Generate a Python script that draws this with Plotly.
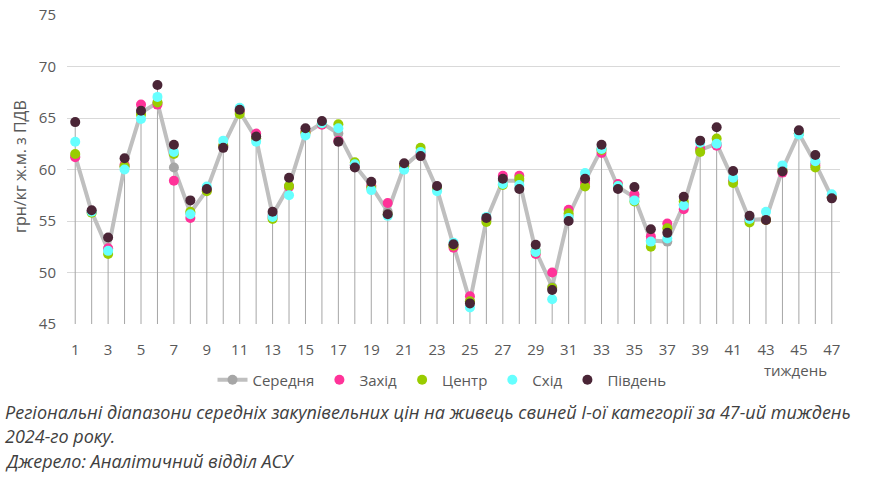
import plotly.graph_objects as go

weeks = list(range(1, 48))

serednia = [61.3, 55.9, 52.2, 60.3, 65.5, 66.5, 60.2, 55.8, 58.0, 62.3,
            65.6, 63.0, 55.6, 58.4, 63.5, 64.5, 63.5, 60.4, 58.4, 55.9,
            60.3, 61.7, 58.1, 52.6, 47.2, 55.1, 58.9, 58.9, 52.1, 48.6,
            55.5, 58.9, 62.0, 58.3, 57.3, 53.1, 53.0, 56.6, 61.9, 62.5,
            59.0, 55.1, 55.2, 60.0, 63.5, 60.6, 57.3]

zakhid = [61.2, 55.9, 52.35, 60.45, 66.3, 66.3, 58.9, 55.3, 58.0, 62.2,
          65.7, 63.5, 55.4, 58.3, 63.7, 64.35, 62.8, 60.4, 58.4, 56.75,
          60.4, 61.5, 58.1, 52.4, 47.7, 55.2, 59.4, 59.4, 51.8, 50.0,
          56.1, 58.7, 61.6, 58.6, 57.6, 53.5, 54.75, 56.15, 62.0, 62.3,
          59.0, 55.1, 55.1, 59.7, 63.5, 60.4, 57.3]

tsentr = [61.5, 55.8, 51.8, 60.3, 65.35, 66.5, 61.5, 55.9, 57.9, 62.3,
          65.4, 63.0, 55.2, 58.4, 63.6, 64.5, 64.4, 60.7, 58.2, 55.6,
          60.3, 62.1, 58.1, 52.6, 47.2, 54.9, 58.5, 59.1, 52.0, 48.5,
          55.75, 58.35, 61.9, 58.4, 56.9, 52.5, 54.3, 56.9, 61.7, 63.0,
          58.7, 54.85, 55.1, 59.9, 63.5, 60.2, 57.3]

skhid = [62.7, 55.9, 52.1, 60.0, 64.9, 67.05, 61.7, 55.65, 58.35, 62.8,
         66.0, 62.7, 55.4, 57.5, 63.3, 64.5, 64.0, 60.5, 58.0, 55.5,
         59.97, 61.7, 57.9, 52.9, 46.6, 55.4, 58.6, 58.5, 52.0, 47.4,
         55.3, 59.65, 62.0, 58.4, 57.0, 53.0, 53.3, 56.5, 62.6, 62.5,
         59.2, 55.2, 55.9, 60.4, 63.4, 60.8, 57.6]

pivden = [64.6, 56.05, 53.4, 61.1, 65.7, 68.2, 62.4, 57.0, 58.1, 62.1,
          65.8, 63.2, 55.9, 59.2, 64.0, 64.7, 62.7, 60.2, 58.8, 55.65,
          60.6, 61.3, 58.4, 52.75, 47.0, 55.3, 59.1, 58.1, 52.7, 48.3,
          55.0, 59.1, 62.4, 58.1, 58.3, 54.2, 53.85, 57.35, 62.8, 64.1,
          59.85, 55.5, 55.1, 59.8, 63.8, 61.4, 57.2]

x_ticks = list(range(1, 48, 2))
y_ticks = [45, 50, 55, 60, 65, 70, 75]

W, H = 879, 492
ML, MR, MT, MB = 67, 39, 15, 168
PW, PH = W - ML - MR, H - MT - MB


def px(xp):
    return (xp - ML) / PW


def py(yp):
    return (H - MB - yp) / PH


# drop lines from baseline up to the highest value of each week
drop_x, drop_y = [], []
for i, w in enumerate(weeks):
    top = max(serednia[i], zakhid[i], tsentr[i], skhid[i], pivden[i])
    drop_x += [w, w, None]
    drop_y += [45, top, None]

fig = go.Figure()
fig.add_trace(go.Scatter(x=drop_x, y=drop_y, mode="lines",
                         line=dict(color="#a6a6a6", width=1),
                         showlegend=False, hoverinfo="skip"))
fig.add_trace(go.Scatter(x=weeks, y=serednia, name="Середня", mode="lines+markers",
                         line=dict(color="#bfbfbf", width=4),
                         marker=dict(color="#a6a6a6", size=10)))
for name, vals, col in [("Захід", zakhid, "#ff3399"),
                        ("Центр", tsentr, "#99cc00"),
                        ("Схід", skhid, "#66ffff"),
                        ("Південь", pivden, "#4a2536")]:
    fig.add_trace(go.Scatter(x=weeks, y=vals, name=name, mode="markers",
                             marker=dict(color=col, size=10)))

tick_font = dict(family="Open Sans", size=15, color="#595959")

fig.update_layout(
    width=W, height=H,
    margin=dict(l=ML, r=MR, t=MT, b=MB, autoexpand=False),
    plot_bgcolor="white", paper_bgcolor="white",
    font=dict(family="Open Sans", color="#595959"),
    xaxis=dict(range=[0.5, 47.5], tickmode="array", tickvals=x_ticks,
               ticktext=[str(t) for t in x_ticks], showgrid=False,
               zeroline=False, showline=False, ticks="", tickfont=tick_font,
               ticklabelstandoff=15, automargin=False),
    yaxis=dict(range=[45, 75], tickmode="array", tickvals=y_ticks,
               showgrid=True, gridcolor="#d9d9d9", gridwidth=1,
               zeroline=False, showline=False, ticks="", tickfont=tick_font,
               ticklabelstandoff=10, automargin=False),
    legend=dict(orientation="h", x=px(442), xanchor="center", y=py(380),
                yanchor="middle", font=dict(family="Open Sans", size=15, color="#595959"),
                itemwidth=30, tracegroupgap=0, bgcolor="rgba(0,0,0,0)"),
    showlegend=True,
)

fig.add_annotation(text="грн/кг ж.м. з ПДВ", xref="paper", yref="paper",
                   x=px(20), y=py(167), textangle=-90, showarrow=False,
                   font=dict(family="Open Sans", size=16, color="#595959"),
                   xanchor="center", yanchor="middle")

fig.add_annotation(text="тиждень", xref="paper", yref="paper", x=px(795), y=py(370),
                   showarrow=False, font=tick_font, xanchor="center", yanchor="middle")

cap_font = dict(family="Open Sans", size=18, color="#404040")
captions = ["<i>Регіональні діапазони середніх закупівельних цін на живець свиней I-ої категорії за 47-ий тиждень</i>",
            "<i>2024-го року.</i>",
            "<i>Джерело: Аналітичний відділ АСУ</i>"]
for k, (t, yy) in enumerate(zip(captions, [412, 436, 461])):
    fig.add_annotation(text=t, xref="paper", yref="paper", x=px(3), y=py(yy),
                       showarrow=False, font=cap_font, xanchor="left", yanchor="middle",
                       align="left")

fig.write_html("out.html", post_script="document.body.style.margin='0';",
               config={"displayModeBar": False})
